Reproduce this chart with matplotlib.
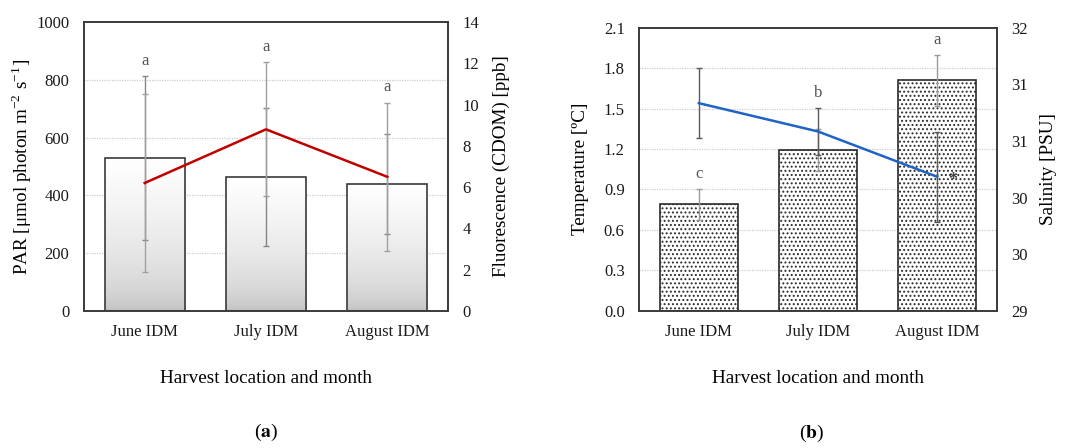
import numpy as np
import matplotlib
matplotlib.use("Agg")
import matplotlib.pyplot as plt
from matplotlib.colors import LinearSegmentedColormap


# ============================================================
# data
# ============================================================

months = ["June IDM", "July IDM", "August IDM"]

# (a) PAR (bars, left) and fluorescence (line, right)
par = [529, 463, 440]
par_err = [283, 239, 174]
fluor = [6.2, 8.8, 6.5]
fluor_err = [4.3, 3.25, 3.6]
par_letters = ["a", "a", "a"]

# (b) temperature (bars, left) and salinity (line, right)
temp = [0.79, 1.19, 1.71]
temp_err = [0.115, 0.155, 0.19]
sal = [31.2, 30.9, 30.42]
sal_err = [0.37, 0.25, 0.475]
temp_letters = ["c", "b", "a"]

par_ticks = [0, 200, 400, 600, 800, 1000]
fluor_ticks = [0, 2, 4, 6, 8, 10, 12, 14]
temp_ticks = [0.0, 0.3, 0.6, 0.9, 1.2, 1.5, 1.8, 2.1]
sal_lim = (29, 32)

plt.rcParams["font.family"] = ["Liberation Serif", "DejaVu Serif"]
plt.rcParams["mathtext.fontset"] = "stix"
plt.rcParams["hatch.linewidth"] = 0.9

TICK_FS = 12
LABEL_FS = 13.8
SPINE = "#3a3a3a"


# ============================================================
# helpers
# ============================================================

def style_axes(ax):
    for s in ax.spines.values():
        s.set_color(SPINE)
        s.set_linewidth(1.2)
    ax.tick_params(length=0, labelsize=TICK_FS, pad=10.5, colors="#1a1a1a")
    ax.tick_params(axis="x", pad=9.5)


def add_grid(ax, ticks):
    for t in ticks[1:-1]:
        ax.axhline(t, color="#cccccc", lw=0.9, ls=(0, (1, 1)), zorder=0)


def gradient_bars(ax, bars):
    cmap = LinearSegmentedColormap.from_list("bg", ["#bdbdbd", "#ffffff"])
    grad = np.sqrt(np.linspace(0, 1, 256)).reshape(-1, 1)
    for b in bars:
        x0, w, h = b.get_x(), b.get_width(), b.get_height()
        ax.imshow(grad, extent=[x0, x0 + w, 0, h], origin="lower", cmap=cmap,
                  vmin=0, vmax=1, aspect="auto", zorder=1.5)


def place_labels(ax, ax2, ylx, y2lx, xly):
    ax.yaxis.set_label_coords(ylx, 0.5)
    ax.yaxis.label.set_va("center")
    ax2.yaxis.set_label_coords(y2lx, 0.5)
    ax2.yaxis.label.set_va("center")
    ax.xaxis.set_label_coords(0.5, xly)
    ax.xaxis.label.set_va("center")


# ============================================================
# figure
# ============================================================

fig = plt.figure(figsize=(10.68, 4.48), dpi=100)
x = np.arange(len(months))

# ---------------- (a) ----------------
ax = fig.add_axes([84 / 1068, 137 / 448, 364 / 1068, 289 / 448])
add_grid(ax, par_ticks)
bars = ax.bar(x, par, width=0.66, facecolor="none", edgecolor=SPINE,
              linewidth=1.2, zorder=2)
gradient_bars(ax, bars)
ax.errorbar(x, par, yerr=par_err, fmt="none", ecolor="#858585", elinewidth=1.0,
            capsize=2.5, capthick=1.0, zorder=3)
ax.set_xlim(-0.5, 2.5)
ax.set_ylim(par_ticks[0], par_ticks[-1])
ax.set_yticks(par_ticks)
ax.set_xticks(x)
ax.set_xticklabels(months)
ax.set_ylabel("PAR [μmol photon m$^{\\mathregular{-2}}$ s$^{\\mathregular{-1}}$]",
              fontsize=LABEL_FS)
ax.set_xlabel("Harvest location and month", fontsize=LABEL_FS)
style_axes(ax)

ax2 = ax.twinx()
ax2.plot(x, fluor, color="#c00000", lw=1.8, zorder=3)
ax2.errorbar(x, fluor, yerr=fluor_err, fmt="none", ecolor="#a0a0a0",
             elinewidth=1.0, capsize=2.5, capthick=1.0, zorder=2)
ax2.set_ylim(fluor_ticks[0], fluor_ticks[-1])
ax2.set_yticks(fluor_ticks)
ax2.set_ylabel("Fluorescence (CDOM) [ppb]", fontsize=LABEL_FS)
style_axes(ax2)
place_labels(ax, ax2, -0.171, 1.1475, -0.232)

# significance letters above the highest cap
scale = par_ticks[-1] / fluor_ticks[-1]
for i, lab in enumerate(par_letters):
    top = max(par[i] + par_err[i], (fluor[i] + fluor_err[i]) * scale)
    ax.annotate(lab, (x[i], top), xytext=(0, 8), textcoords="offset points",
                ha="center", va="baseline", fontsize=TICK_FS, color="#555555",
                zorder=5)

fig.text(266 / 1068, 1 - 432 / 448, r"($\mathbf{a}$)", ha="center", va="center",
         fontsize=14)

# ---------------- (b) ----------------
bx = fig.add_axes([639.3 / 1068, 137.3 / 448, 357.4 / 1068, 283 / 448])
add_grid(bx, temp_ticks)
bx.bar(x, temp, width=0.65, facecolor="white", edgecolor="#2a2a2a", hatch="....",
       linewidth=1.2, zorder=2)
bx.errorbar(x, temp, yerr=temp_err, fmt="none", ecolor="#9a9a9a", elinewidth=1.0,
            capsize=2.5, capthick=1.0, zorder=3)
bx.set_xlim(-0.5, 2.5)
bx.set_ylim(temp_ticks[0], temp_ticks[-1])
bx.set_yticks(temp_ticks)
bx.set_yticklabels([f"{t:.1f}" for t in temp_ticks])
bx.set_xticks(x)
bx.set_xticklabels(months)
bx.set_ylabel("Temperature [ºC]", fontsize=LABEL_FS)
bx.set_xlabel("Harvest location and month", fontsize=LABEL_FS)
style_axes(bx)

bx2 = bx.twinx()
bx2.errorbar(x, sal, yerr=sal_err, fmt="none", ecolor="#5a5a5a", elinewidth=1.0,
             capsize=2.5, capthick=1.0, zorder=2)
bx2.plot(x, sal, color="#1f63c4", lw=1.8, zorder=3)
bx2.set_ylim(*sal_lim)
sal_ticks = np.linspace(sal_lim[0], sal_lim[1], 6)
bx2.set_yticks(sal_ticks)
bx2.set_yticklabels([f"{t:.0f}" for t in sal_ticks])
bx2.set_ylabel("Salinity [PSU]", fontsize=LABEL_FS)
style_axes(bx2)
place_labels(bx, bx2, -0.164, 1.146, -0.241)

bx2.annotate("*", (x[-1], sal[-1]), xytext=(11, -3), textcoords="offset points",
             ha="center", va="center", fontsize=13, fontweight="bold",
             color="#444444")

# letters sit over the temperature cap, or over a salinity cap just above it
k = temp_ticks[-1] / (sal_lim[1] - sal_lim[0])
for i, lab in enumerate(temp_letters):
    top = temp[i] + temp_err[i]
    s_top = (sal[i] + sal_err[i] - sal_lim[0]) * k
    if top < s_top < top + 0.2:
        top = s_top
    bx.annotate(lab, (x[i], top), xytext=(0, 8), textcoords="offset points",
                ha="center", va="baseline", fontsize=TICK_FS, color="#555555",
                zorder=5)

fig.text(812 / 1068, 1 - 433 / 448, r"($\mathbf{b}$)", ha="center", va="center",
         fontsize=14)

fig.savefig("out.png", dpi=100)
